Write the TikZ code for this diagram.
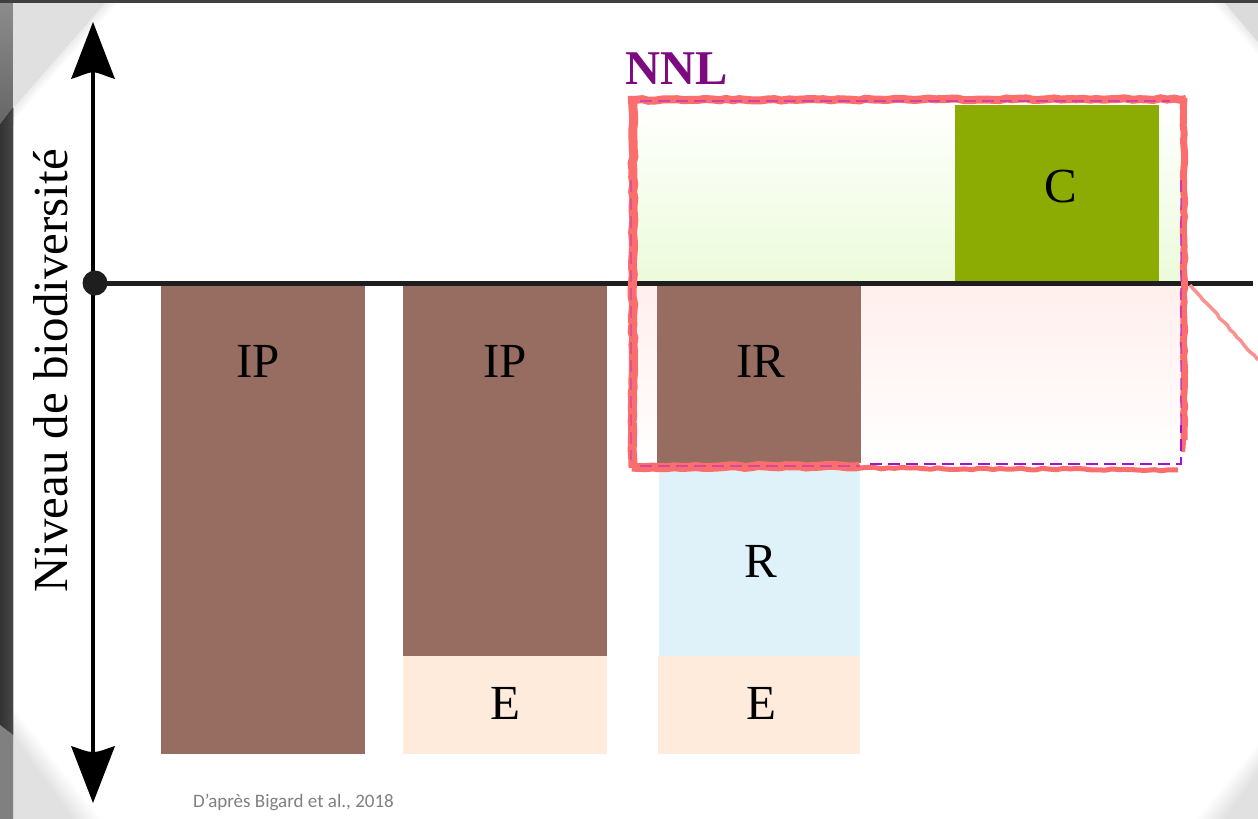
\documentclass[tikz,border=0pt]{standalone}
\usepackage{fontspec}
\setmainfont{Liberation Serif}
\newfontfamily\capfont{Carlito}
\usetikzlibrary{decorations.pathmorphing,shadings}
\definecolor{brownbar}{HTML}{976C61}
\definecolor{peach}{HTML}{FEEBDC}
\definecolor{skyb}{HTML}{DFF2F9}
\definecolor{olive}{HTML}{8CAC04}
\definecolor{redmark}{HTML}{FA6E6E}
\definecolor{nnlp}{HTML}{7E0A80}
\definecolor{dashp}{HTML}{A410D8}
\definecolor{axisk}{HTML}{1E1E1E}
\definecolor{palegreen}{HTML}{ECFBDB}
\definecolor{palepink}{HTML}{FFEFED}
\tikzset{
  x=1pt,y=-1pt,
  bar/.style={draw=none,inner sep=0pt,outer sep=0pt,anchor=north west},
  lab/.style={font=\fontsize{49}{49}\selectfont,text=black,inner sep=0pt},
  redline/.style={draw=redmark,decorate,decoration={random steps,segment length=7pt,amplitude=0.9pt}},
  dashline/.style={draw=dashp,line width=3pt,dash pattern=on 12pt off 6pt},
}
\begin{document}
\begin{tikzpicture}
\useasboundingbox (0,0) rectangle (1258,819);
% backdrop
\fill[white] (0,0) rectangle (1258,819);
\fill[top color=black!45,bottom color=black!60] (0,0) rectangle (13,125);
\fill[left color=black!80,right color=black!72] (0,125) -- (13,108) -- (13,735) -- (0,725) -- cycle;
\fill[black!50] (0,725) -- (13,735) -- (13,819) -- (0,819) -- cycle;
\fill[black!75] (0,0) rectangle (1258,2.5);
% folded corners
\foreach \d in {1,3,...,13}{\fill[black,opacity=.012] (13,3) -- (105+\d,3) -- (13,108+\d) -- cycle;}
\fill[black!12] (13,3) -- (105,3) -- (13,108) -- cycle;
\foreach \d in {1,3,...,13}{\fill[black,opacity=.012] (1225-\d,3) -- (1258,3) -- (1258,42+\d) -- cycle;}
\fill[black!14] (1225,3) -- (1258,3) -- (1258,42) -- cycle;
\foreach \d in {0,3,...,27}{\fill[black,opacity=.011] (13,708+\d) -- (100-\d,819) -- (13,819) -- cycle;}
\foreach \d in {0,3,...,27}{\fill[black,opacity=.011] (1197+\d,819) -- (1258,745+\d) -- (1258,819) -- cycle;}
% pale gains and losses
\fill[top color=white,bottom color=palegreen] (638,103) rectangle (1180,281);
\fill[top color=palepink,bottom color=white] (630,285) rectangle (1180,465);
% bars
\node[bar,fill=brownbar,minimum width=204pt,minimum height=469pt] (ipa) at (161,285) {};
\node[lab] (ipat) at (258,361) {IP};
\node[bar,fill=brownbar,minimum width=204pt,minimum height=371pt] (ipb) at (403,285) {};
\node[lab] (ipbt) at (505,361) {IP};
\node[bar,fill=peach,minimum width=204pt,minimum height=98pt] (eb) at (403,656) {};
\node[lab] (ebt) at (505,703) {E};
\node[bar,fill=brownbar,minimum width=204pt,minimum height=178pt] (ir) at (657,285) {};
\node[lab] (irt) at (761,361) {IR};
\node[bar,fill=skyb,minimum width=201pt,minimum height=188pt] (r) at (659,468) {};
\node[lab] (rt) at (761,561) {R};
\node[bar,fill=peach,minimum width=202pt,minimum height=98pt] (ec) at (658,656) {};
\node[lab] (ect) at (761,703) {E};
\node[bar,fill=olive,minimum width=204pt,minimum height=176pt] (c) at (955,105) {};
\node[lab] (ct) at (1061,187) {C};
% axes
\coordinate (xa) at (95,283);
\coordinate (xb) at (1253,283);
\coordinate (ya) at (93,72);
\coordinate (yb) at (93,752);
\draw[axisk,line width=5pt] (xa) -- (xb);
\draw[black,line width=4pt] (ya) -- (yb);
\fill[axisk] (xa) circle (12.5);
\fill[black] (93,22) -- (115,79) .. controls (105,76) and (100,73) .. (93,72) .. controls (86,73) and (81,76) .. (71,79) -- cycle;
\fill[black] (93,803) -- (115,746) .. controls (105,749) and (100,752) .. (93,752) .. controls (86,752) and (81,749) .. (71,746) -- cycle;
% NNL frame: red hand-drawn strokes, purple dashes showing through
\draw[redline,line width=8pt] (628,100) -- (1186,99);
\draw[redline,line width=7pt] (1184,98) -- (1184,440);
\draw[redline,line width=4pt] (1184,440) -- (1183,452);
\draw[redline,line width=9pt] (632,467) -- (860,466);
\draw[redline,line width=5pt] (860,468) -- (1178,470);
\draw[redline,line width=9pt] (633,100) -- (633,468);
\draw[dashline,line width=2pt,opacity=.45] (640,101) -- (1170,101);
\draw[dashline,line width=2.5pt] (870,464) -- (1181,464) -- (1181,425);
\draw[dashline,line width=2pt,opacity=.4] (640,466) -- (860,466);
\draw[dashline,line width=2.5pt,opacity=.5] (1181,180) -- (1181,425);
\draw[dashline,line width=2pt,opacity=.3] (631,180) -- (631,460);
\coordinate (leadstart) at (1190,285);
\coordinate (lead) at (1258,360);
\draw[redmark!75,line width=3.5pt,decorate,decoration={random steps,segment length=5pt,amplitude=0.8pt}] (leadstart) -- (lead);
% labels
\node[font=\bfseries\fontsize{48.5}{49}\selectfont,text=nnlp,inner sep=0pt] (nnl) at (677,69) {NNL};
\node[rotate=90,font=\fontsize{49}{49}\selectfont,inner sep=0pt] (ylab) at (51,371) {Niveau de biodiversité};
\node[font=\capfont\fontsize{19}{19}\selectfont,text=black!50,inner sep=0pt,anchor=base west] (cap) at (193,807) {D’après Bigard et al., 2018};
\end{tikzpicture}
\end{document}
